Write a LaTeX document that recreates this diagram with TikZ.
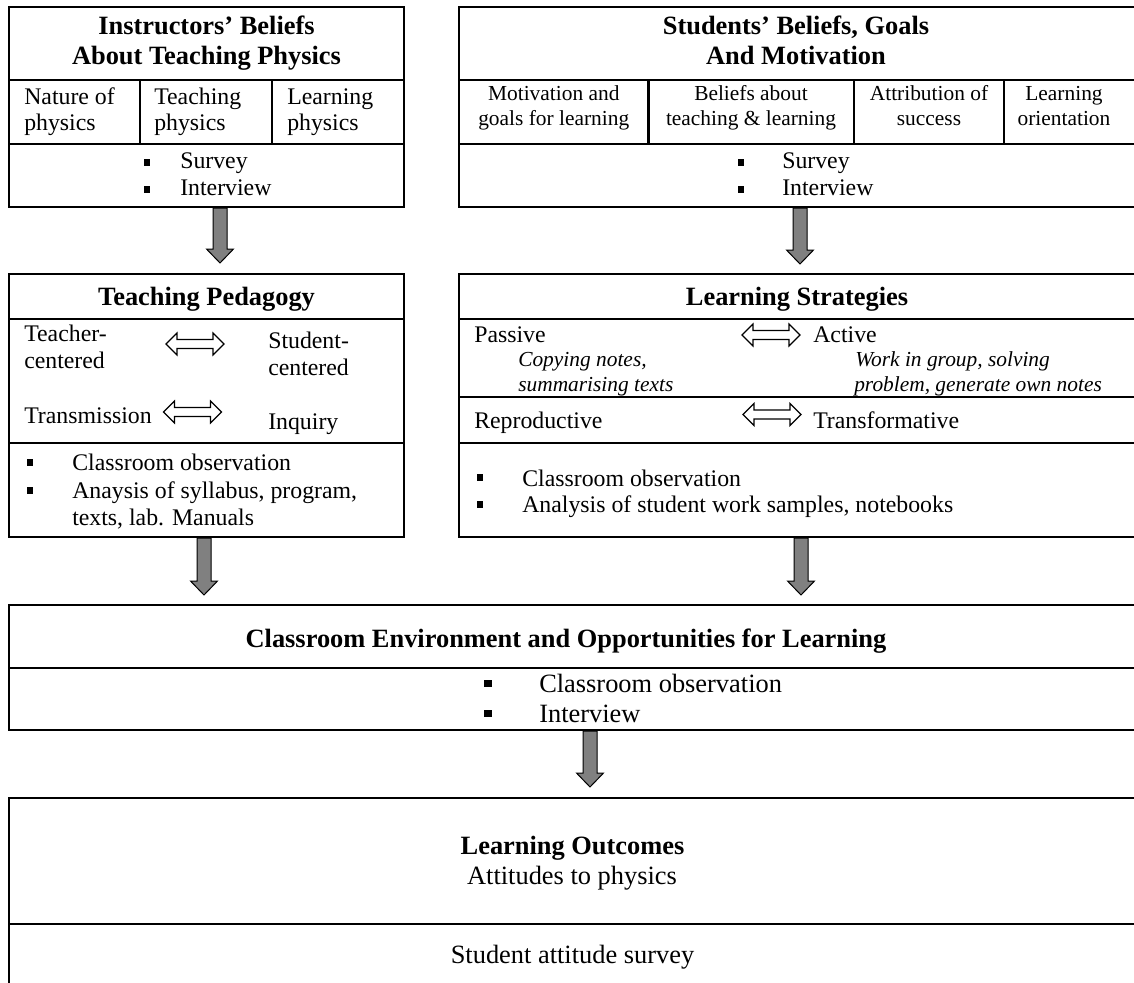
\documentclass[tikz,border=0pt]{standalone}
\usepackage{fontspec}
\setmainfont{Liberation Serif}
\usetikzlibrary{fit,calc}

% hollow double-headed arrow used inside the boxes
\tikzset{
  dblarrow/.pic={
    \draw[line width=0.9pt, fill=white, line join=miter]
      (-29,0) -- (-18,-11) -- (-18,-4.5) -- (18,-4.5) -- (18,-11) -- (29,0)
      -- (18,11) -- (18,4.5) -- (-18,4.5) -- (-18,11) -- cycle;
  },
  boxline/.style={line width=1.65pt},
  boxn/.style={draw, boxline, inner sep=0pt},
  ttl/.style={font=\fontsize{19.8}{22}\selectfont\bfseries, inner sep=0pt, anchor=base},
  txt/.style={font=\fontsize{17.85}{20}\selectfont, inner sep=0pt, anchor=base west},
  sml/.style={font=\fontsize{16.05}{18}\selectfont, inner sep=0pt, anchor=base},
  itl/.style={font=\fontsize{16.05}{18}\selectfont\itshape, inner sep=0pt, anchor=base west},
  bigtxt/.style={font=\fontsize{19.8}{22}\selectfont, inner sep=0pt, anchor=base west},
  bigc/.style={font=\fontsize{19.8}{22}\selectfont, inner sep=0pt, anchor=base},
  sq/.style={fill=black, inner sep=0pt, minimum width=4.5pt, minimum height=5.25pt},
  bigsq/.style={fill=black, inner sep=0pt, minimum width=5.5pt, minimum height=5.5pt},
  fatarrowstyle/.style={fill=black!50, draw=black, line width=0.75pt, line join=miter},
}

% thick grey down arrow between two named points on one vertical
\newcommand\fatarrow[2]{%
  \draw[fatarrowstyle] let \p1=(#1), \p2=(#2) in
    (\x1-5.25pt,\y1) -- (\x1+5.25pt,\y1) -- (\x1+5.25pt,\y2+10.5pt)
    -- (\x1+10.125pt,\y2+10.5pt) -- (\x1,\y2) -- (\x1-10.125pt,\y2+10.5pt)
    -- (\x1-5.25pt,\y2+10.5pt) -- cycle;}

\begin{document}
\begin{tikzpicture}[x=0.75pt,y=-0.75pt]
\useasboundingbox (0,0) rectangle (1134,982);
\clip (0,0) rectangle (1134,982);
\fill[white] (0,0) rectangle (1134,982);

% ---------- connectors ----------
\coordinate (a1s) at (220,208);  \coordinate (a1e) at (220,263);
\coordinate (a2s) at (800,208);  \coordinate (a2e) at (800,264);
\coordinate (a3s) at (204,538);  \coordinate (a3e) at (204,595);
\coordinate (a4s) at (801,538);  \coordinate (a4e) at (801,595);
\coordinate (a5s) at (590,731);  \coordinate (a5e) at (590,787);
\fatarrow{a1s}{a1e}
\fatarrow{a2s}{a2e}
\fatarrow{a3s}{a3e}
\fatarrow{a4s}{a4e}
\fatarrow{a5s}{a5e}

% ---------- Instructors' beliefs ----------
\node[boxn, fit={(9,7) (404,207)}] (ibel) {};
\draw[boxline] (9,80) -- (404,80) (9,144) -- (404,144)
               (140,80) -- (140,144) (272,80) -- (272,144);
\node[ttl] (ibelA) at (206.5,34) {Instructors’ Beliefs};
\node[ttl] (ibelB) at (206.5,64) {About Teaching Physics};
\node[txt] (ib1a) at (24,104) {Nature of};
\node[txt] (ib1b) at (24,130) {physics};
\node[txt] (ib2a) at (154,104) {Teaching};
\node[txt] (ib2b) at (154,130) {physics};
\node[txt] (ib3a) at (287,104) {Learning};
\node[txt] (ib3b) at (287,130) {physics};
\node[sq] (ibq1) at (147,162.5) {};
\node[sq] (ibq2) at (147,189.5) {};
\node[txt] (ibm1) at (180,168) {Survey};
\node[txt] (ibm2) at (180,195) {Interview};

% ---------- Students' beliefs ----------
\node[boxn, fit={(459,7) (1140,207)}] (sbel) {};
\draw[boxline] (459,80) -- (1140,80) (459,144) -- (1140,144)
               (648.5,80) -- (648.5,144) (854,80) -- (854,144) (1004,80) -- (1004,144);
\node[ttl] (sbelA) at (796,34) {Students’ Beliefs, Goals};
\node[ttl] (sbelB) at (796,64) {And Motivation};
\node[sml] (sb1a) at (553.75,100) {Motivation and};
\node[sml] (sb1b) at (553.75,125) {goals for learning};
\node[sml] (sb2a) at (751,100) {Beliefs about};
\node[sml] (sb2b) at (751,125) {teaching \& learning};
\node[sml] (sb3a) at (929,100) {Attribution of};
\node[sml] (sb3b) at (929,125) {success};
\node[sml] (sb4a) at (1064,100) {Learning};
\node[sml] (sb4b) at (1064,125) {orientation};
\node[sq] (sbq1) at (741,162.5) {};
\node[sq] (sbq2) at (741,189.5) {};
\node[txt] (sbm1) at (782,168) {Survey};
\node[txt] (sbm2) at (782,195) {Interview};

% ---------- Teaching pedagogy ----------
\node[boxn, fit={(9,274) (404,537)}] (tped) {};
\draw[boxline] (9,319) -- (404,319) (9,443) -- (404,443);
\node[ttl] (tpedT) at (206.5,305) {Teaching Pedagogy};
\node[txt] (tp1a) at (24,341) {Teacher-};
\node[txt] (tp1b) at (24,368) {centered};
\node[txt] (tp2a) at (268,348) {Student-};
\node[txt] (tp2b) at (268,375) {centered};
\node[txt] (tp3a) at (24,423) {Transmission};
\node[txt] (tp3b) at (268,429) {Inquiry};
\pic (tpar1) at (195,344) {dblarrow};
\pic (tpar2) at (192.5,412) {dblarrow};
\node[sq] (tpq1) at (29.5,462) {};
\node[sq] (tpq2) at (29.5,490) {};
\node[txt] (tpm1) at (72,470) {Classroom observation};
\node[txt] (tpm2) at (72,498) {Anaysis of syllabus, program,};
\node[txt] (tpm3) at (72,525) {texts, lab. Manuals};

% ---------- Learning strategies ----------
\node[boxn, fit={(459,274) (1140,537)}] (lstr) {};
\draw[boxline] (459,319) -- (1140,319) (459,397) -- (1140,397) (459,443) -- (1140,443);
\node[ttl] (lstrT) at (797,305) {Learning Strategies};
\node[txt] (ls1a) at (474,342) {Passive};
\node[txt] (ls1b) at (813,342) {Active};
\pic (lsar1) at (771,335) {dblarrow};
\node[itl] (ls2a) at (518,366) {Copying notes,};
\node[itl] (ls2b) at (518,391) {summarising texts};
\node[itl] (ls3a) at (855,366) {Work in group, solving};
\node[itl] (ls3b) at (854,391) {problem, generate own notes};
\node[txt] (ls4a) at (474,428) {Reproductive};
\node[txt] (ls4b) at (813,428) {Transformative};
\pic (lsar2) at (772,414.5) {dblarrow};
\node[sq] (lsq1) at (480,477.5) {};
\node[sq] (lsq2) at (480,504) {};
\node[txt] (lsm1) at (522,486) {Classroom observation};
\node[txt] (lsm2) at (522,512) {Analysis of student work samples, notebooks};

% ---------- Classroom environment ----------
\node[boxn, fit={(9,605) (1140,730)}] (cenv) {};
\draw[boxline] (9,668) -- (1140,668);
\node[ttl] (cenvT) at (566,647) {Classroom Environment and Opportunities for Learning};
\node[bigsq] (ceq1) at (488,683.5) {};
\node[bigsq] (ceq2) at (488,713.5) {};
\node[bigtxt] (cem1) at (539,692) {Classroom observation};
\node[bigtxt] (cem2) at (539,722) {Interview};

% ---------- Learning outcomes ----------
\node[boxn, fit={(9,798) (1140,990)}] (lout) {};
\draw[boxline] (9,924) -- (1140,924);
\node[ttl] (loutT) at (572.5,854) {Learning Outcomes};
\node[bigc] (loutS) at (572,884) {Attitudes to physics};
\node[bigc] (loutM) at (572.5,963) {Student attitude survey};
\end{tikzpicture}
\end{document}
